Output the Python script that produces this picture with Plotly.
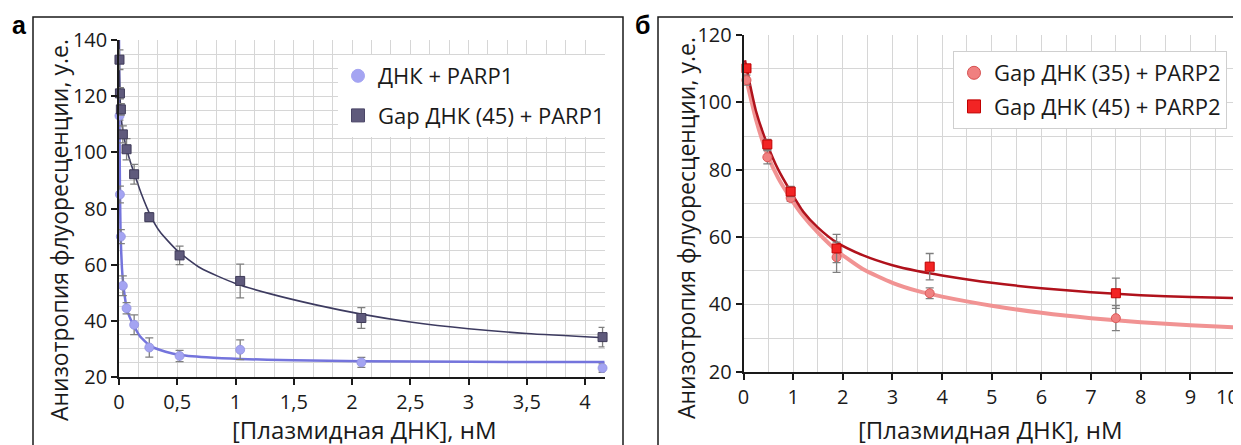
import plotly.graph_objects as go

W, H = 1241, 445
OFF = 8  # page body margin: the figure is drawn 8 px right and down

# ---------------- panel a: PARP1 ----------------
a_x = [0.004, 0.008, 0.016, 0.033, 0.065, 0.13, 0.26, 0.52, 1.04, 2.08, 4.15]
a_dna_y = [113, 85, 70, 52.5, 44.5, 38.6, 30.5, 27.5, 29.7, 25.2, 23.2]
a_dna_err = [1.5, 3.0, 2.5, 3.5, 2.0, 3.5, 3.4, 2.0, 3.5, 1.8, 1.5]
a_gap_y = [133, 121, 115.3, 106.4, 101.1, 92.2, 76.9, 63.3, 54.2, 41.0, 34.2]
a_gap_err = [3.5, 2.0, 2.0, 3.0, 3.8, 3.5, 1.5, 3.3, 6.0, 3.7, 3.5]

# fitted curves, sampled from the figure
a_dna_fit_x = [0, 0.003, 0.008, 0.014, 0.025, 0.037, 0.05, 0.066, 0.09, 0.123,
               0.18, 0.27, 0.4, 0.51, 0.75, 1.04, 1.5, 2.08, 3.0, 4.17]
a_dna_fit_y = [140, 115, 88, 70, 59, 52.8, 48.5, 44.5, 41.5, 38.6,
               34.5, 31, 29, 27.9, 27.0, 26.4, 26.0, 25.6, 25.4, 25.3]
a_gap_fit_x = [0, 0.004, 0.012, 0.025, 0.045, 0.07, 0.1, 0.13, 0.19, 0.27,
               0.35, 0.5, 0.7, 1.0, 1.3, 1.7, 2.08, 2.5, 3.0, 3.5, 4.17]
a_gap_fit_y = [140, 128, 117, 110, 105, 100.5, 96.3, 92.6, 85.4, 77.5,
               71.8, 65.0, 58.8, 53.3, 49.6, 45.6, 42.4, 39.6, 37.2, 35.5, 34.0]

# ---------------- panel б: PARP2 ----------------
b_x = [0.06, 0.48, 0.95, 1.875, 3.75, 7.5]
b_gap35_y = [106.6, 83.7, 71.6, 54.0, 43.3, 35.9]
b_gap35_err = [1.5, 2.0, 1.0, 4.5, 1.6, 3.7]
b_gap45_y = [110.1, 87.5, 73.5, 56.6, 51.2, 43.3]
b_gap45_err = [1.0, 1.5, 1.5, 4.2, 3.9, 4.5]

b_fit_x = [0.03, 0.06, 0.25, 0.48, 0.7, 0.95, 1.2, 1.5, 1.875, 2.4,
           3.0, 3.5, 4.0, 5, 6, 7, 8, 9, 10]
b_gap45_fit_y = [112.5, 110.3, 97.5, 87.5, 80.0, 73.5, 67.6, 62.8, 58.4, 54.6,
                 51.6, 49.9, 48.6, 46.4, 44.8, 43.6, 42.7, 42.2, 41.8]
b_gap35_fit_y = [108.5, 106.6, 95.0, 84.5, 77.5, 71.5, 66.3, 61.3, 56.0, 50.5,
                 46.4, 44.0, 42.3, 39.6, 37.5, 35.9, 34.7, 33.8, 33.1]

# x tick labels of panel б (the last one is squeezed against the edge)
b_tickvals = [0, 1, 2, 3, 4, 5, 6, 7, 8, 9, 10]
b_ticktext = ["0", "1", "2", "3", "4", "5", "6", "7", "8", "9", ""]

FONT = "Open Sans"
GRID = "#d6d6d6"
ERR = dict(color="#7f7f7f", thickness=1.3, width=4)


def px_x(p):
    return (p - OFF) / W


def px_y(p):
    return (H - (p - OFF)) / H


fig = go.Figure()

# --- panel a lines
fig.add_trace(go.Scatter(x=a_dna_fit_x, y=a_dna_fit_y, mode="lines",
                         line=dict(color="#7474dc", width=2.5, shape="spline", smoothing=0.5),
                         showlegend=False, hoverinfo="skip", xaxis="x", yaxis="y"))
fig.add_trace(go.Scatter(x=a_gap_fit_x, y=a_gap_fit_y, mode="lines",
                         line=dict(color="#3d3b60", width=1.6, shape="spline", smoothing=0.6),
                         showlegend=False, hoverinfo="skip", xaxis="x", yaxis="y"))
# --- panel a points
fig.add_trace(go.Scatter(x=a_x, y=a_dna_y, mode="markers", cliponaxis=False,
                         error_y=dict(type="data", array=a_dna_err, **ERR),
                         marker=dict(symbol="circle", size=9, color="#a4a4f2",
                                     line=dict(color="#9090e0", width=0.8)),
                         showlegend=False, xaxis="x", yaxis="y"))
fig.add_trace(go.Scatter(x=a_x, y=a_gap_y, mode="markers", cliponaxis=False,
                         error_y=dict(type="data", array=a_gap_err, **ERR),
                         marker=dict(symbol="square", size=9, color="#5f5a7c",
                                     line=dict(color="#3e3a58", width=1)),
                         showlegend=False, xaxis="x", yaxis="y"))

# --- panel б lines
fig.add_trace(go.Scatter(x=b_fit_x, y=b_gap35_fit_y, mode="lines",
                         line=dict(color="#f19393", width=4, shape="spline", smoothing=0.6),
                         showlegend=False, hoverinfo="skip", xaxis="x2", yaxis="y2"))
fig.add_trace(go.Scatter(x=b_fit_x, y=b_gap45_fit_y, mode="lines",
                         line=dict(color="#b0121c", width=2.5, shape="spline", smoothing=0.6),
                         showlegend=False, hoverinfo="skip", xaxis="x2", yaxis="y2"))
# --- panel б points
fig.add_trace(go.Scatter(x=b_x, y=b_gap35_y, mode="markers", cliponaxis=False,
                         error_y=dict(type="data", array=b_gap35_err, **ERR),
                         marker=dict(symbol="circle", size=9, color="#f08080",
                                     line=dict(color="#dd5a5a", width=1)),
                         showlegend=False, xaxis="x2", yaxis="y2"))
fig.add_trace(go.Scatter(x=b_x, y=b_gap45_y, mode="markers", cliponaxis=False,
                         error_y=dict(type="data", array=b_gap45_err, **ERR),
                         marker=dict(symbol="square", size=9, color="#f22424",
                                     line=dict(color="#c00000", width=1)),
                         showlegend=False, xaxis="x2", yaxis="y2"))

# legend entries (bigger symbols than on the plot)
legend_items = [
    ("ДНК + PARP1", "circle", "#a4a4f2", "#a4a4f2", "legend", "x", "y"),
    ("Gap ДНК (45) + PARP1", "square", "#5f5a7c", "#4a4566", "legend", "x", "y"),
    ("Gap ДНК (35) + PARP2", "circle", "#f08080", "#d65050", "legend2", "x2", "y2"),
    ("Gap ДНК (45) + PARP2", "square", "#f22424", "#c00000", "legend2", "x2", "y2"),
]
for i, (name, sym, col, edge, leg, xa, ya) in enumerate(legend_items):
    fig.add_trace(go.Scatter(x=[None], y=[None], mode="markers", name=name,
                             marker=dict(symbol=sym, size=13, color=col,
                                         line=dict(color=edge, width=1)),
                             legend=leg, legendgroup="g%d" % i, xaxis=xa, yaxis=ya))

axis_common = dict(
    showline=True, linecolor="#1a1a1a", linewidth=1.6,
    ticks="outside", ticklen=6, tickwidth=1.5, tickcolor="#1a1a1a",
    showgrid=True, gridcolor=GRID, gridwidth=1, zeroline=False,
    automargin=False, ticklabeloverflow="allow",
    tickfont=dict(family=FONT, size=20, color="#1a1a1a"),
)

fig.update_layout(
    width=W, height=H,
    margin=dict(l=0, r=0, t=0, b=0, autoexpand=False),
    paper_bgcolor="white", plot_bgcolor="white",
    separators=", ",
    font=dict(family=FONT, color="#1a1a1a"),
    xaxis=dict(domain=[px_x(119), px_x(604.5)], range=[0, 25 / 6], dtick=0.5, tick0=0,
               minor=dict(dtick=1 / 6, showgrid=True, gridcolor=GRID), anchor="y",
               **axis_common),
    yaxis=dict(domain=[px_y(377), px_y(40)], range=[20, 140], dtick=20, tick0=0,
               minor=dict(dtick=5, showgrid=True, gridcolor=GRID), anchor="x",
               **axis_common),
    xaxis2=dict(domain=[px_x(743.5), px_x(1240)], range=[0, 10],
                tickmode="array", tickvals=b_tickvals, ticktext=b_ticktext,
                minor=dict(dtick=0.5, showgrid=True, gridcolor=GRID), anchor="y2",
                **axis_common),
    yaxis2=dict(domain=[px_y(371.7), px_y(35)], range=[20, 120], dtick=20, tick0=0,
                minor=dict(dtick=10, showgrid=True, gridcolor=GRID), anchor="x2",
                **axis_common),
    legend=dict(x=px_x(338), y=px_y(55), xanchor="left", yanchor="top",
                bgcolor="white", borderwidth=0, tracegroupgap=8,
                font=dict(family=FONT, size=22, color="#1a1a1a")),
    legend2=dict(x=px_x(953), y=px_y(51), xanchor="left", yanchor="top",
                 bgcolor="white", bordercolor="#cfcfcf", borderwidth=1, tracegroupgap=2,
                 font=dict(family=FONT, size=22, color="#1a1a1a")),
)

# panel frames
fig.add_shape(type="rect", xref="paper", yref="paper",
              x0=px_x(33), x1=px_x(623), y0=-0.2, y1=px_y(17),
              line=dict(color="#1a1a1a", width=1.5))
fig.add_shape(type="rect", xref="paper", yref="paper",
              x0=px_x(658), x1=1.2, y0=-0.2, y1=px_y(17),
              line=dict(color="#1a1a1a", width=1.5))

ytitle = "Анизотропия флуоресценции, у.е."
xtitle = "[Плазмидная ДНК], нМ"
label_font = dict(family="Liberation Sans", size=25, color="black")
title_font_y = dict(family=FONT, size=23, color="#1a1a1a")
title_font_x = dict(family=FONT, size=24, color="#1a1a1a")
tick_font = dict(family=FONT, size=20, color="#1a1a1a")
annots = [
    ("<b>а</b>", 19, 25, 0, label_font, "center"),
    ("<b>б</b>", 642, 25, 0, label_font, "center"),
    (ytitle, 59, 230, -90, title_font_y, "center"),
    (ytitle, 686, 228, -90, title_font_y, "center"),
    (xtitle, 364.5, 429, 0, title_font_x, "center"),
    (xtitle, 990, 429, 0, title_font_x, "center"),
    ("10", 1241, 396, 0, tick_font, "right"),
]
for text, ax, ay, ang, fnt, anch in annots:
    fig.add_annotation(text=text, x=px_x(ax), y=px_y(ay), xref="paper", yref="paper",
                       xanchor=anch, yanchor="middle", showarrow=False,
                       textangle=ang, font=fnt)

fig.write_html("out.html")
